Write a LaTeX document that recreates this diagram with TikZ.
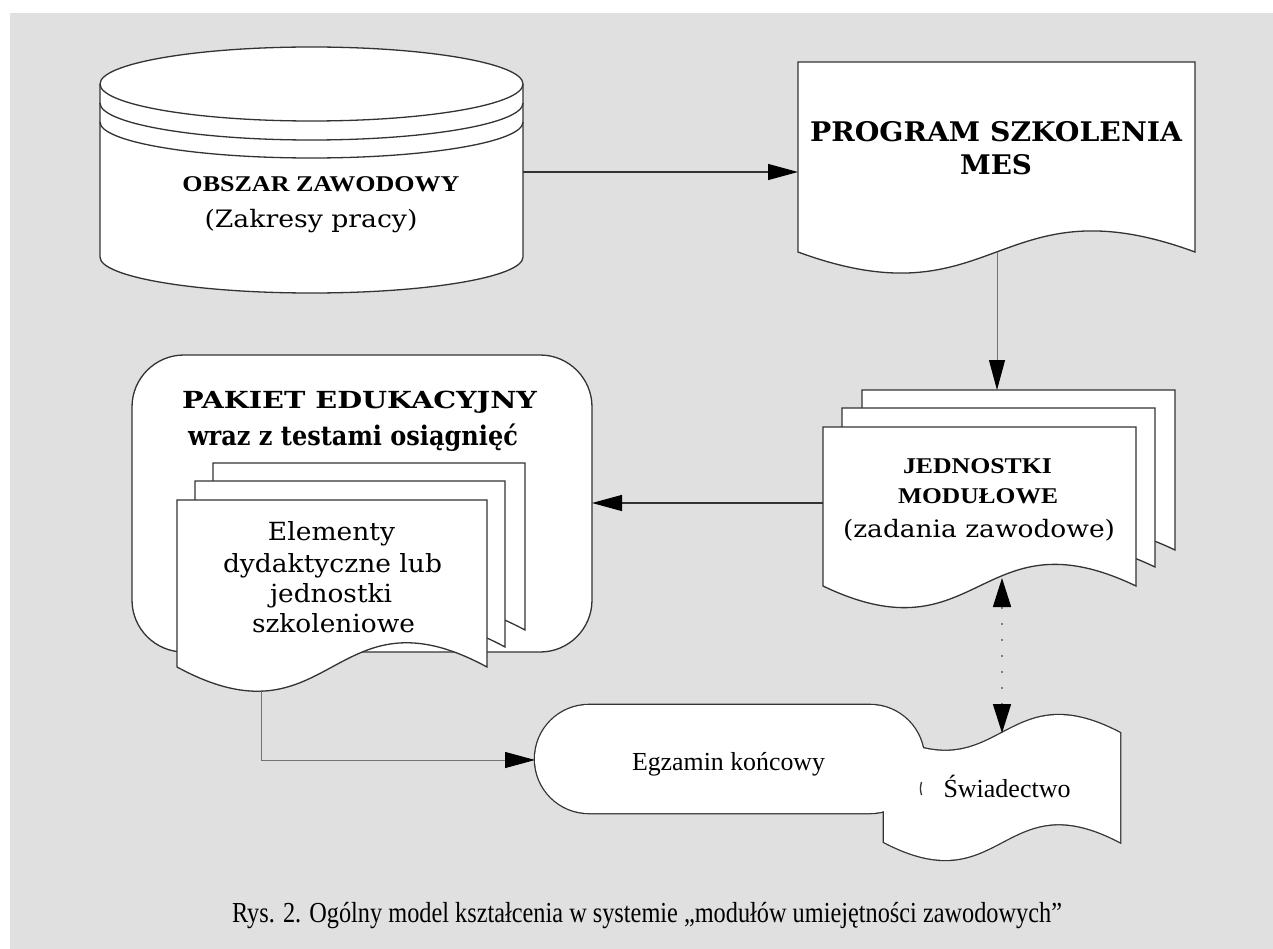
\documentclass[tikz,border=0pt]{standalone}
\usepackage{graphicx}
\usepackage{fontspec}
\setmainfont{Liberation Serif}
\newfontfamily\centfont{DejaVu Serif}
\usetikzlibrary{arrows.meta}
\newcommand\fitw[2]{\resizebox{#1pt}{\height}{#2}}
\newcommand\tms[1]{\fontsize{#1}{#1}\selectfont}
\begin{document}
\begin{tikzpicture}[x=1pt,y=-1pt,
  shp/.style={draw=black!80, line width=1.3pt, fill=white},
  shpline/.style={draw=black!80, line width=1.3pt},
  thick outline/.style={draw=black!80, line width=2.6pt},
  conn/.style={draw=black!80, line width=1.2pt},
  thinconn/.style={draw=black!55, line width=1pt},
  tip/.style={-{Triangle[length=30pt,width=16pt,black]}},
  lbl/.style={anchor=base, inner sep=0pt},
]
\useasboundingbox (0,0) rectangle (1273,949);
\fill[white] (0,0) rectangle (1273,949);
\fill[black!12] (10,13) rectangle (1273,949);

% --- cylinder: OBSZAR ZAWODOWY
\path[shp] (100,84) -- (100,257) arc[start angle=180,end angle=0,x radius=211.5,y radius=36]
  -- (523,84) arc[start angle=0,end angle=-180,x radius=211.5,y radius=37] -- cycle;
\draw[shpline] (100,84) arc[start angle=180,end angle=0,x radius=211.5,y radius=37];
\draw[shpline] (100,103) arc[start angle=180,end angle=0,x radius=211.5,y radius=37];
\draw[shpline] (100,122) arc[start angle=180,end angle=0,x radius=211.5,y radius=36];
\node[lbl] (obszar) at (321,192) {\bfseries\tms{22.5}\fitw{277}{OBSZAR ZAWODOWY}};
\node[lbl] (zakresy) at (311,228) {\centfont\tms{24}\fitw{213}{(Zakresy pracy)}};

% --- document: PROGRAM SZKOLENIA
\path[shp] (798,62) -- (1195,62) -- (1195,252) .. controls (996.5,179) and (996.5,325) .. (798,252) -- cycle;
\node[lbl] (prog1) at (996,142) {\centfont\bfseries\tms{27}\fitw{372}{PROGRAM SZKOLENIA}};
\node[lbl] (prog2) at (996,175) {\centfont\bfseries\tms{27}\fitw{72}{MES}};

% --- multidocument: JEDNOSTKI
\path[shp] (862,390) -- (1175,390) -- (1175,550) .. controls (1018.5,475) and (1018.5,625) .. (862,550) -- cycle;
\path[shp] (842,408) -- (1155,408) -- (1155,567) .. controls (998.5,492) and (998.5,642) .. (842,567) -- cycle;
\path[shp] (823,427) -- (1136,427) -- (1136,586) .. controls (979.5,511) and (979.5,661) .. (823,586) -- cycle;
\node[lbl] (jed1) at (977.5,473) {\bfseries\tms{22.5}\fitw{149}{JEDNOSTKI}};
\node[lbl] (jed2) at (978,503) {\bfseries\tms{22.5}\fitw{160}{MODUŁOWE}};
\node[lbl] (jed3) at (979,537) {\centfont\tms{24}\fitw{272}{(zadania zawodowe)}};

% --- PAKIET EDUKACYJNY
\path[shp, rounded corners=52] (132,652) -- (132,355) -- (592,355) -- (592,652) -- cycle;
\node[lbl] (pak1) at (359.5,408) {\centfont\bfseries\tms{23.5}\fitw{355}{PAKIET EDUKACYJNY}};
\node[lbl] (pak2) at (353,445) {\centfont\bfseries\tms{27}\fitw{330}{wraz z testami osiągnięć}};
\path[shp] (213,463) -- (525,463) -- (525,630) .. controls (369,546) and (369,714) .. (213,630) -- cycle;
\path[shp] (195,481) -- (505,481) -- (505,647) .. controls (350,563) and (350,731) .. (195,647) -- cycle;
\path[shp] (177,500) -- (487,500) -- (487,667) .. controls (332,583) and (332,751) .. (177,667) -- cycle;
\node[lbl] (el1) at (331.5,540) {\centfont\tms{25}\fitw{127}{Elementy}};
\node[lbl] (el2) at (332.5,572) {\centfont\tms{25}\fitw{219}{dydaktyczne lub}};
\node[lbl] (el3) at (331,602) {\centfont\tms{25}\fitw{122}{jednostki}};
\node[lbl] (el4) at (333.5,632) {\centfont\tms{25}\fitw{163}{szkoleniowe}};

% --- Egzamin koncowy + Swiadectwo (merged outline)
\path[thick outline, rounded corners=54] (535,705) rectangle (924,813);
\path[thick outline] (884,733) .. controls (1002,795) and (1002,671) .. (1120,733) -- (1120,842)
  .. controls (1002,780) and (1002,904) .. (884,842) -- cycle;
\fill[white, rounded corners=54] (535,705) rectangle (924,813);
\fill[white] (884,733) .. controls (1002,795) and (1002,671) .. (1120,733) -- (1120,842)
  .. controls (1002,780) and (1002,904) .. (884,842) -- cycle;
\draw[shpline] (921.5,782) .. controls (920,788.5) .. (921.5,795);
\node[lbl] (egz) at (728.5,770) {\tms{26}\fitw{193}{Egzamin końcowy}};
\node[lbl] (swi) at (1007,797) {\tms{26}\fitw{127}{Świadectwo}};

% --- caption
\node[lbl] (cap) at (647,922) {\tms{29}\fitw{830}{Rys. 2. Ogólny model kształcenia w systemie „modułów umiejętności zawodowych”}};

% --- connector end points
\coordinate (cylE) at (523,172);
\coordinate (progW) at (798,172);
\coordinate (progS) at (997,252);
\coordinate (jedN) at (997,390);
\coordinate (jedW) at (823,503);
\coordinate (pakE) at (592,503);
\coordinate (pakS) at (261,690);
\coordinate (bend) at (261,760);
\coordinate (egzW) at (535,760);
\coordinate (jedS) at (1002,578);
\coordinate (swiN) at (1002,733);

% --- connectors
\draw[conn, tip] (cylE) -- (progW);
\draw[thinconn, tip] (progS) -- (jedN);
\draw[conn, tip] (jedW) -- (pakE);
\draw[thinconn, tip] (pakS) -- (bend) -- (egzW);
\draw[draw=black!50, line width=1.6pt, dash pattern=on 2pt off 14pt,
  {Triangle[length=29pt,width=18pt,black]}-{Triangle[length=29pt,width=18pt,black]}] (jedS) -- (swiN);
\end{tikzpicture}
\end{document}
